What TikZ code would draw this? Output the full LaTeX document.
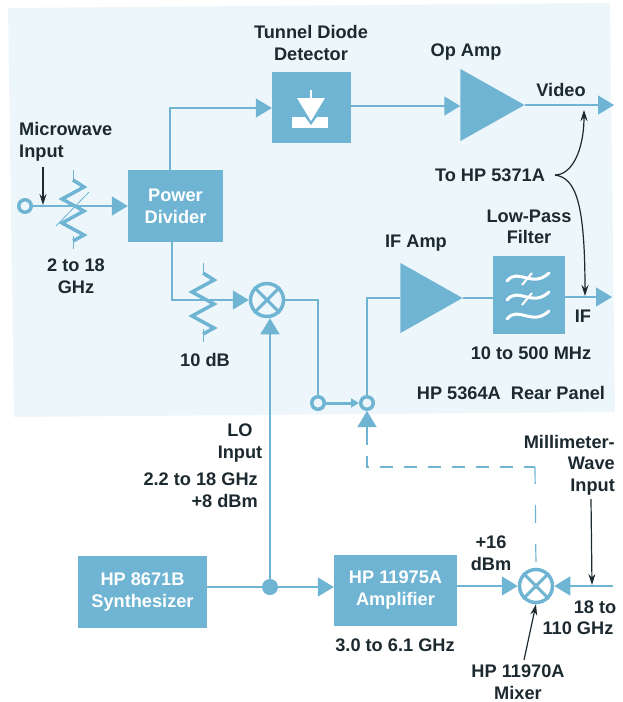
\documentclass[tikz,border=0pt]{standalone}
\usepackage{fontspec}
\setmainfont{Liberation Sans}
\usetikzlibrary{shapes.geometric, arrows.meta, positioning, calc}
\definecolor{hpblue}{HTML}{6FB4D3}
\definecolor{panelblue}{HTML}{EDF7FB}
\definecolor{inkdark}{HTML}{1C2A30}
\tikzset{
  blockbox/.style={
    rectangle, draw=none, fill=hpblue, inner sep=0pt, align=center,
    text=white, font=\fontsize{18.2}{22}\selectfont\bfseries
  },
  amp/.style={
    isosceles triangle, isosceles triangle stretches=true, fill=hpblue,
    draw=none, inner sep=0pt, anchor=apex
  },
  lbl/.style={
    inner sep=0pt, align=center, text=inkdark,
    font=\fontsize{18.2}{21.5}\selectfont\bfseries
  },
  jack/.style={circle, draw=hpblue, line width=3.5pt, fill=panelblue,
    inner sep=0pt, minimum size=12.5pt},
  mixer/.style={circle, draw=hpblue, line width=3.5pt,
    inner sep=0pt, minimum size=33pt},
  wire/.style={draw=hpblue, line width=1.5pt},
  feed/.style={wire, -{Triangle[length=16pt,width=19pt]}},
  pointer/.style={draw=inkdark, line width=1.2pt, -{Stealth[length=11pt,width=7pt]}},
  zig/.style={draw=hpblue, line width=3.5pt, line join=miter},
  wave/.style={draw=white, line width=3pt, line cap=round}
}
\newcommand{\attenuator}[1]{%
  \draw[wire, line width=.8pt] ($(#1)+(0,-38)$) -- ++(0,10);
  \draw[wire, line width=.8pt] ($(#1)+(0,28)$) -- ++(0,13);
  \draw[zig] ($(#1)+(0,-28)$) -- ++(11,7) -- ++(-22,12) -- ++(22,12)
    -- ++(-22,12) -- ++(22,12) -- ++(-11,6);}
\begin{document}
\begin{tikzpicture}[x=1pt, y=-1pt]
  \useasboundingbox (0,0) rectangle (622,702);
  \fill[panelblue] (8,8) -- (610,3) -- (615,412) -- (14,417) -- cycle;
  % blocks
  \node[blockbox, minimum width=95pt, minimum height=72pt] (divider) at (175.5,206)
    {Power\\Divider};
  \node[blockbox, minimum width=79pt, minimum height=71pt] (detector) at (311.5,107.5) {};
  \node[blockbox, minimum width=72pt, minimum height=78pt] (filter) at (529,295) {};
  \node[blockbox, minimum width=129pt, minimum height=72pt] (synth) at (142.5,592)
    {HP 8671B\\Synthesizer};
  \node[blockbox, minimum width=123pt, minimum height=71pt] (amplifier) at (395.5,590.5)
    {HP 11975A\\Amplifier};
  \node[amp, minimum height=64pt, minimum width=72pt] (opamp) at (525,105) {};
  \node[amp, minimum height=62pt, minimum width=70pt] (ifamp) at (463,298) {};
  \node[mixer] (mixa) at (267,300) {};
  \node[mixer] (mixb) at (536,586) {};
  \foreach \m in {mixa,mixb}{%
    \draw[draw=hpblue, line width=3pt] (\m.north west) -- (\m.south east);
    \draw[draw=hpblue, line width=3pt] (\m.north east) -- (\m.south west);}
  \node[jack] (micjack) at (25,206) {};
  \node[jack] (rearout) at (318,403) {};
  \node[jack] (rearin) at (367,403) {};
  \node[circle, fill=hpblue, inner sep=0pt, minimum size=16pt] (lotap) at (270,587) {};
  % free ends
  \coordinate (videoend) at (614,105);
  \coordinate (ifend) at (612,297);
  \coordinate (mmend) at (613,586);
  \coordinate (dashend) at (367,432);
  \coordinate (dashcorner) at (535,467);
  \coordinate (bracetip) at (555,175);
  % connectors
  \draw[feed] (micjack) -- (micjack -| divider.west);
  \draw[feed] (divider.north -| 170,170) |- (detector.west |- 0,108);
  \draw[feed] (detector.east |- 0,106) -- (opamp.west |- 0,106);
  \draw[feed] (opamp.apex) -- (videoend);
  \draw[feed] (divider.south -| 172,242) |- (mixa.west);
  \draw[feed] (lotap) -- (lotap |- mixa.south);
  \draw[wire] (mixa.east) -| (rearout.north);
  \draw[wire, line width=3pt, -{Triangle[length=8pt,width=9pt]}] (rearout) -- (rearin);
  \draw[wire] (rearin.north) |- (ifamp.west |- 0,298);
  \draw[wire] (ifamp.apex) -- (filter.west |- ifamp.apex);
  \draw[feed] (filter.east |- ifend) -- (ifend);
  \draw[wire] (synth.east |- lotap) -- (lotap);
  \draw[feed] (lotap) -- (amplifier.west |- lotap);
  \draw[feed] (amplifier.east |- mixb) -- (mixb.west);
  \draw[feed] (mmend) -- (mixb.east);
  \draw[feed] (dashend) -- (rearin.south);
  \draw[wire, line width=1.2pt, dash pattern=on 13pt off 11pt] (dashend) |- (dashcorner);
  \draw[wire, line width=1.2pt, dash pattern=on 18pt off 21pt, dash phase=33pt] (mixb.north) -- (dashcorner);
  \attenuator{73,208}
  \draw[wire, line width=.8pt] (56,226) -- (89,192);
  \attenuator{203,301}
  % diode symbol
  \fill[white] (292,117) rectangle (328,128);
  \fill[hpblue] (290,96) -- (332,96) -- (311,125) -- cycle;
  \fill[white] (297,98) -- (325,98) -- (311,121) -- cycle;
  \draw[white, line width=1.5pt] (311,90) -- (311,98);
  % filter symbol
  \foreach \yy in {281,300,319}{%
    \draw[wave] (507,\yy) .. controls (518,\yy-14) and (532,\yy+8) .. (549,\yy-8);}
  \foreach \yy in {283,303}{%
    \draw[white, line width=2pt] (522,\yy+2) -- (532,\yy-10);}
  % labels
  \node[lbl] (tunnellbl) at (311,43) {Tunnel Diode\\Detector};
  \node[lbl] (opamplbl) at (466,52) {Op Amp};
  \node[lbl] (videolbl) at (561,90) {Video};
  \node[lbl, align=left, anchor=west] (miclbl) at (19,142) {Microwave\\Input};
  \node[lbl] (ghzlbl) at (76,276) {2 to 18\\GHz};
  \node[lbl] (tolbl) at (490,175) {To HP 5371A};
  \node[lbl] (lowlbl) at (529,227) {Low-Pass\\Filter};
  \node[lbl] (ifamplbl) at (416,243) {IF Amp};
  \node[lbl] (iflbl) at (583,316) {IF};
  \node[lbl] (bandlbl) at (531,353) {10 to 500 MHz};
  \node[lbl] (dblbl) at (205,360) {10 dB};
  \node[lbl] (rearlbl) at (511,393) {HP 5364A\ \ Rear Panel};
  \node[lbl] (lolbl) at (240,443) {LO\\Input};
  \node[lbl, align=right, anchor=east] (lofreq) at (258,490) {2.2 to 18 GHz\\+8 dBm};
  \node[lbl, align=right, anchor=east] (mmlbl) at (615,465) {Millimeter-\\Wave\\Input};
  \node[lbl] (plusdbm) at (491,553) {+16\\dBm};
  \node[lbl] (amprange) at (395,645) {3.0 to 6.1 GHz};
  \node[lbl] (mmfreqa) at (595,607) {18 to};
  \node[lbl] (mmfreqb) at (578,628) {110 GHz};
  \node[lbl] (mixlbl) at (518,682) {HP 11970A\\Mixer};
  % pointers
  \coordinate (micin) at (43,205);
  \draw[pointer] (43,167) -- (micin);
  \draw[pointer] (bracetip) .. controls (572,175) and (584,150) .. (584,110);
  \draw[pointer] (bracetip) .. controls (575,178) and (585,200) .. (585,296);
  \draw[pointer] (591,499) -- (592,585);
  \draw[pointer] (524,660) -- (mixb.south);
\end{tikzpicture}
\end{document}
